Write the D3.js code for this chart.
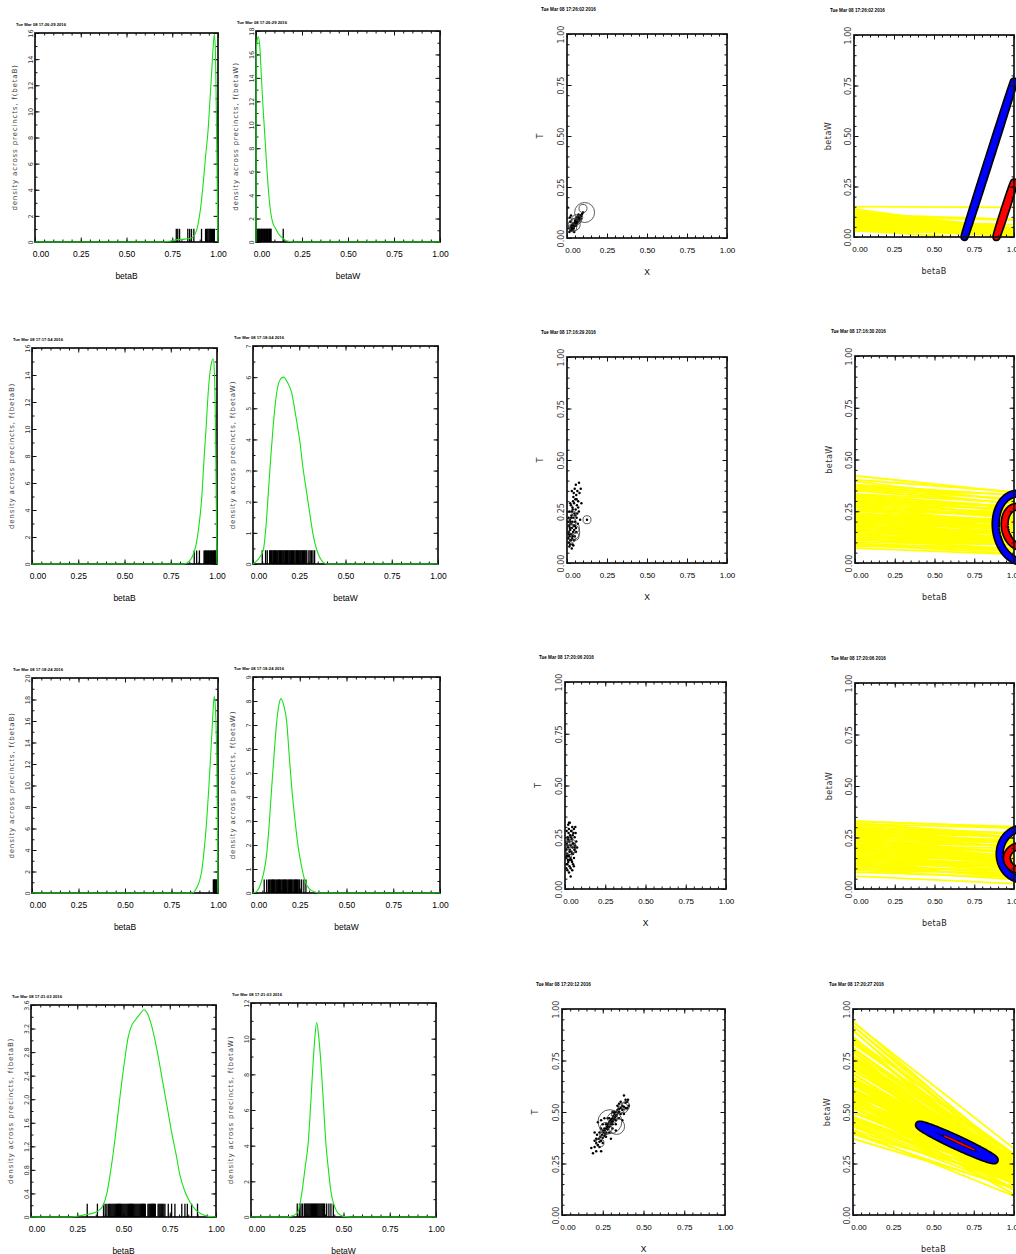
<!DOCTYPE html>
<html><head><meta charset="utf-8">
<script src="https://cdn.jsdelivr.net/npm/d3@7"></script>
<style>
body{margin:0;background:#fff;}
svg{display:block;background:#fff;}
</style></head><body>
<svg id="fig" width="1016" height="1254"></svg>
<script>
// ---------- date stamps printed above each plot ----------
const stampsBetaB = ['Tue Mar 08 17:26:29 2016','Tue Mar 08 17:17:54 2016','Tue Mar 08 17:18:24 2016','Tue Mar 08 17:21:03 2016'];
const stampsBetaW = ['Tue Mar 08 17:26:29 2016','Tue Mar 08 17:18:04 2016','Tue Mar 08 17:18:24 2016','Tue Mar 08 17:21:03 2016'];
const stampsXT    = ['Tue Mar 08 17:26:02 2016','Tue Mar 08 17:16:29 2016','Tue Mar 08 17:20:06 2016','Tue Mar 08 17:20:12 2016'];
const stampsTomo  = ['Tue Mar 08 17:26:02 2016','Tue Mar 08 17:16:30 2016','Tue Mar 08 17:20:06 2016','Tue Mar 08 17:20:27 2016'];

// ---------- density axes ----------
const betaBMax  = [16, 16, 20, 3.6];
const betaBStep = [2, 2, 2, 0.4];
const betaWMax  = [18, 7, 9, 12];
const betaWStep = [2, 1, 1, 2];
const unitTicks = [0, 0.25, 0.5, 0.75, 1];

// ---------- density curves across precincts: [value, density] ----------
const betaBDensity1 = [[0,0],[0.70,0],[0.74,0.08],[0.78,0.18],[0.82,0.22],[0.85,0.28],[0.87,0.5],[0.89,1.3],[0.905,2.6],[0.92,4.6],[0.935,7.0],[0.945,8.4],[0.955,10.6],[0.965,12.9],[0.974,15.0],[0.98,15.9],[0.986,14.5],[0.991,10],[0.996,4],[1.0,0]];
const betaWDensity1 = [[0,0],[0.001,16.0],[0.006,17.2],[0.0125,17.5],[0.02,16.8],[0.028,14.5],[0.036,12.1],[0.045,9.8],[0.053,7.8],[0.062,5.6],[0.072,3.6],[0.082,2.3],[0.092,1.6],[0.103,1.25],[0.12,0.75],[0.135,0.45],[0.147,0.3],[0.165,0.1],[0.19,0.02],[0.22,0],[1,0]];
const betaBDensity2 = [[0,0],[0.82,0],[0.845,0.15],[0.865,0.5],[0.885,1.3],[0.903,2.9],[0.918,5.0],[0.93,7.8],[0.942,10.3],[0.953,12.8],[0.963,14.3],[0.972,15.0],[0.98,15.2],[0.986,14.2],[0.991,11],[0.995,6],[0.998,2],[1,0]];
const betaWDensity2 = [[0,0],[0.02,0.1],[0.04,0.25],[0.056,0.45],[0.07,1.2],[0.083,2.3],[0.097,3.5],[0.11,4.5],[0.128,5.5],[0.145,5.9],[0.164,6.0],[0.185,5.85],[0.209,5.5],[0.23,4.8],[0.254,3.9],[0.27,3.1],[0.29,2.3],[0.31,1.5],[0.326,0.9],[0.345,0.45],[0.362,0.2],[0.38,0.05],[0.4,0],[1,0]];
const betaBDensity3 = [[0,0],[0.86,0],[0.875,0.15],[0.885,0.47],[0.9,1.1],[0.912,2.0],[0.925,3.9],[0.939,6.7],[0.95,9.6],[0.961,12.9],[0.97,15.8],[0.98,18.3],[0.986,17.2],[0.993,12.9],[0.997,6.7],[1,0]];
const betaWDensity3 = [[0,0],[0.02,0.07],[0.046,0.5],[0.06,0.95],[0.073,1.6],[0.087,2.9],[0.1,4.4],[0.114,5.9],[0.127,7.15],[0.14,7.9],[0.15,8.1],[0.165,7.8],[0.18,7.15],[0.193,5.8],[0.207,4.4],[0.225,3.0],[0.242,1.9],[0.26,1.1],[0.278,0.5],[0.3,0.18],[0.332,0.04],[0.36,0],[1,0]];
const betaBDensity4 = [[0,0],[0.22,0],[0.26,0.02],[0.3,0.04],[0.34,0.07],[0.37,0.12],[0.39,0.2],[0.41,0.4],[0.427,0.71],[0.445,1.1],[0.463,1.56],[0.485,2.15],[0.508,2.7],[0.525,3.05],[0.544,3.25],[0.565,3.35],[0.59,3.45],[0.61,3.52],[0.63,3.45],[0.652,3.25],[0.68,2.85],[0.715,2.24],[0.74,1.8],[0.76,1.44],[0.785,1.05],[0.805,0.71],[0.83,0.45],[0.86,0.25],[0.89,0.12],[0.922,0.05],[0.96,0.01],[1,0]];
const betaWDensity4 = [[0,0],[0.19,0],[0.22,0.05],[0.24,0.15],[0.256,0.32],[0.266,0.8],[0.276,1.44],[0.293,2.8],[0.31,4.25],[0.322,6.2],[0.332,8],[0.344,9.9],[0.355,10.9],[0.368,9.9],[0.382,8],[0.393,6.1],[0.404,4.25],[0.418,2.7],[0.432,1.44],[0.448,0.7],[0.463,0.32],[0.485,0.1],[0.51,0.02],[0.54,0],[1,0]];

// ---------- precinct point estimates (rug) ----------
const rugBetaB1 = [0.772,0.78,0.79,0.835,0.845,0.855,0.868,0.91,0.932,0.938,0.944,0.95,0.955,0.96,0.965,0.97,0.975,0.98];
const rugBetaW1 = [0.002,0.006,0.01,0.014,0.018,0.022,0.026,0.03,0.034,0.038,0.042,0.046,0.05,0.054,0.058,0.062,0.066,0.07,0.074,0.078,0.082,0.148];
const rugBetaB2 = [0.877,0.89,0.905,0.93,0.934,0.938,0.942,0.946,0.95,0.954,0.958,0.962,0.966,0.97,0.974,0.978,0.982,0.986,0.99,0.994,0.997];
const rugBetaW2 = [0.05,0.068,0.077,0.09,0.094,0.099,0.103,0.108,0.112,0.117,0.121,0.126,0.131,0.135,0.14,0.144,0.149,0.153,0.158,0.163,0.167,0.172,0.176,0.181,0.186,0.19,0.195,0.199,0.204,0.209,0.213,0.218,0.222,0.227,0.232,0.236,0.241,0.245,0.25,0.255,0.259,0.264,0.268,0.273,0.278,0.282,0.287,0.291,0.302,0.309,0.316,0.324,0.333];
const rugBetaB3 = [0.975,0.978,0.981,0.984,0.987,0.99,0.993];
const rugBetaW3 = [0.06,0.073,0.082,0.087,0.091,0.096,0.1,0.105,0.109,0.114,0.118,0.123,0.127,0.132,0.137,0.141,0.146,0.15,0.155,0.159,0.164,0.168,0.173,0.178,0.182,0.187,0.191,0.196,0.2,0.205,0.209,0.214,0.219,0.223,0.228,0.232,0.237,0.241,0.246,0.25,0.26,0.272,0.283];
const rugBetaB4 = [0.304,0.359,0.392,0.401,0.41,0.418,0.423,0.428,0.433,0.438,0.443,0.448,0.453,0.458,0.463,0.468,0.473,0.478,0.483,0.488,0.493,0.498,0.503,0.508,0.513,0.518,0.523,0.528,0.533,0.538,0.543,0.548,0.553,0.558,0.563,0.568,0.573,0.578,0.583,0.588,0.593,0.598,0.603,0.608,0.613,0.618,0.632,0.637,0.642,0.647,0.652,0.657,0.662,0.667,0.672,0.687,0.692,0.697,0.702,0.707,0.712,0.718,0.724,0.742,0.76,0.778,0.815,0.832,0.845,0.868,0.9];
const rugBetaW4 = [0.25,0.262,0.27,0.278,0.288,0.293,0.298,0.303,0.308,0.313,0.318,0.323,0.328,0.333,0.338,0.343,0.348,0.353,0.358,0.363,0.368,0.373,0.378,0.383,0.388,0.393,0.398,0.409,0.421,0.432,0.445];

// ---------- precinct data [X, T] ----------
const xtPoints1 = [[0.021,0.035],[0.025,0.042],[0.028,0.038],[0.030,0.050],[0.033,0.045],[0.035,0.058],[0.038,0.052],[0.040,0.064],[0.042,0.048],[0.044,0.070],[0.046,0.060],[0.048,0.075],[0.050,0.066],[0.052,0.080],[0.055,0.072],[0.057,0.085],[0.060,0.078],[0.062,0.090],[0.065,0.083],[0.068,0.095],[0.070,0.088],[0.073,0.100],[0.076,0.092],[0.080,0.105],[0.083,0.098],[0.086,0.112],[0.090,0.108],[0.094,0.118],[0.030,0.062],[0.036,0.040],[0.045,0.030],[0.058,0.060],[0.018,0.100],[0.025,0.110],[0.024,0.055],[0.072,0.115],[0.015,0.030],[0.020,0.080],[0.004,0.150],[0.100,0.125],
  [0.030,0.055],[0.040,0.070],[0.050,0.085],[0.055,0.090],[0.060,0.100],[0.065,0.105],[0.035,0.048],[0.045,0.058],[0.055,0.065],[0.065,0.075],[0.075,0.085],[0.085,0.095]];
const xtPoints2 = [[0.008,0.12],[0.010,0.15],[0.012,0.10],[0.014,0.18],[0.016,0.13],[0.018,0.21],[0.020,0.16],[0.022,0.11],[0.024,0.19],[0.026,0.14],[0.028,0.23],[0.030,0.17],[0.032,0.12],[0.034,0.20],[0.036,0.26],[0.038,0.15],[0.040,0.22],[0.042,0.18],[0.044,0.29],[0.046,0.24],[0.048,0.13],[0.050,0.20],[0.052,0.31],[0.054,0.26],[0.056,0.17],[0.058,0.33],[0.060,0.22],[0.062,0.28],[0.065,0.35],[0.068,0.19],[0.070,0.30],[0.074,0.25],[0.078,0.34],[0.082,0.21],[0.086,0.36],[0.020,0.09],[0.035,0.09],[0.045,0.11],[0.015,0.25],[0.025,0.28],[0.040,0.32],[0.006,0.20],[0.030,0.07],[0.125,0.21],[0.090,0.29],[0.055,0.38],
  [0.012,0.14],[0.018,0.17],[0.022,0.20],[0.026,0.22],[0.030,0.25],[0.034,0.27],[0.038,0.30],[0.042,0.34],[0.048,0.36],[0.050,0.18],[0.045,0.16],[0.035,0.13],[0.025,0.11],[0.015,0.08],[0.060,0.31],[0.070,0.27],[0.064,0.24],[0.058,0.15],[0.010,0.22],[0.020,0.29],[0.030,0.35],[0.075,0.39],[0.040,0.085],[0.052,0.23]];
const xtPoints3 = [[0.006,0.15],[0.008,0.19],[0.010,0.12],[0.012,0.22],[0.014,0.17],[0.016,0.25],[0.018,0.14],[0.020,0.20],[0.022,0.27],[0.024,0.16],[0.026,0.23],[0.028,0.11],[0.030,0.19],[0.032,0.26],[0.034,0.15],[0.036,0.21],[0.038,0.28],[0.040,0.18],[0.042,0.24],[0.044,0.13],[0.046,0.20],[0.048,0.26],[0.050,0.17],[0.052,0.22],[0.055,0.29],[0.058,0.19],[0.060,0.25],[0.063,0.21],[0.066,0.27],[0.070,0.23],[0.015,0.09],[0.025,0.08],[0.035,0.10],[0.045,0.30],[0.020,0.31],[0.010,0.28],[0.040,0.14],[0.050,0.12],[0.030,0.32],[0.075,0.20],
  [0.008,0.10],[0.012,0.16],[0.016,0.21],[0.020,0.24],[0.024,0.29],[0.028,0.18],[0.032,0.14],[0.036,0.25],[0.040,0.28],[0.044,0.17],[0.048,0.22],[0.052,0.27],[0.056,0.15],[0.060,0.20],[0.064,0.30],[0.068,0.18],[0.015,0.12],[0.025,0.32],[0.035,0.06],[0.045,0.09],[0.055,0.11],[0.020,0.13]];
const xtPoints4 = [[0.18,0.325],[0.20,0.33],[0.21,0.35],[0.22,0.34],[0.225,0.37],[0.23,0.355],[0.235,0.38],[0.24,0.36],[0.245,0.39],[0.25,0.375],[0.255,0.40],[0.26,0.385],[0.262,0.41],[0.265,0.395],[0.27,0.42],[0.272,0.40],[0.275,0.43],[0.28,0.415],[0.282,0.44],[0.285,0.425],[0.29,0.45],[0.292,0.43],[0.295,0.455],[0.30,0.44],[0.302,0.465],[0.305,0.45],[0.31,0.47],[0.312,0.455],[0.315,0.48],[0.32,0.465],[0.322,0.49],[0.325,0.475],[0.33,0.50],[0.335,0.485],[0.34,0.51],[0.345,0.495],[0.35,0.515],[0.36,0.52],[0.37,0.53],[0.38,0.525],[0.39,0.545],[0.40,0.55],[0.405,0.56],[0.24,0.31],[0.30,0.37],[0.33,0.41],[0.37,0.46],[0.22,0.45],[0.26,0.47],[0.28,0.47],[0.24,0.42],[0.33,0.46],[0.35,0.54],[0.215,0.39],[0.31,0.50],[0.25,0.44],[0.20,0.36],[0.36,0.49],[0.19,0.30],[0.41,0.53],
  [0.21,0.37],[0.23,0.40],[0.25,0.41],[0.27,0.44],[0.29,0.47],[0.31,0.44],[0.33,0.48],[0.35,0.50],[0.37,0.51],[0.39,0.52],[0.26,0.42],[0.28,0.43],[0.30,0.46],[0.32,0.50],[0.34,0.53],[0.36,0.55],[0.23,0.33],[0.27,0.38],[0.29,0.40],[0.31,0.42],[0.33,0.44],[0.35,0.47],[0.38,0.49],[0.40,0.52],[0.25,0.35],[0.21,0.31],[0.20,0.40],[0.24,0.46],[0.38,0.58],[0.39,0.56]];

// ---------- larger precincts drawn as circles: [X, T, N] ----------
const xtSized1 = [[0.11,0.125,960],[0.10,0.145,154],[0.06,0.09,240],[0.045,0.065,346],[0.035,0.05,154],[0.08,0.10,86],[0.05,0.08,120],[0.03,0.045,60],[0.07,0.095,60]];
const xtSized2 = [[0.03,0.15,614],[0.04,0.17,346],[0.02,0.12,240],[0.05,0.13,154],[0.125,0.21,154],[0.035,0.20,120],[0.025,0.18,60],[0.045,0.24,40]];
const xtSized3 = [[0.025,0.20,470],[0.035,0.19,240],[0.02,0.17,154],[0.04,0.22,154],[0.03,0.24,86],[0.015,0.22,60]];
const xtSized4 = [[0.294,0.453,1382],[0.335,0.43,614],[0.376,0.52,240],[0.233,0.35,154],[0.39,0.53,154],[0.31,0.47,240],[0.27,0.42,346],[0.36,0.51,120],[0.25,0.39,86],[0.32,0.49,86]];

// ---------- posterior contours in (betaB, betaW): centre, semi-axes, angle (deg) ----------
const tomoContours1 = [
  {level:'outer', cx:0.845, cy:0.385, rx:0.415, ry:0.004, angle:68.1},
  {level:'inner', cx:0.945, cy:0.135, rx:0.146, ry:0.004, angle:67.8}];
const tomoContours2 = [
  {level:'outer', cx:1.04, cy:0.17, rx:0.17, ry:0.15, angle:-60},
  {level:'inner', cx:1.03, cy:0.175, rx:0.10, ry:0.085, angle:-60}];
const tomoContours3 = [
  {level:'outer', cx:1.06, cy:0.17, rx:0.15, ry:0.125, angle:0},
  {level:'inner', cx:1.05, cy:0.15, rx:0.095, ry:0.06, angle:0}];
const tomoContours4 = [
  {level:'outer', cx:0.645, cy:0.352, rx:0.25, ry:0.017, angle:-19.9},
  {level:'core', cx:0.66, cy:0.35, rx:0.10, ry:0.002, angle:-19.9}];

// ---------- layout: plot boxes [left, top, right, bottom] ----------
const boxesBetaB = [[35,33,218,242],[32,348,217,564],[32,678,218,893],[31,1005,216,1217]];
const boxesBetaW = [[256,31,440,242],[253,346,438,564],[253,677,440,893],[251,1003,436,1217]];
const boxesXT    = [[567,34,727,238],[567,357,727,563],[565,682,726,889],[562,1009,725,1215]];
const boxesTomo  = [[854,35,1014,237],[855,356,1014,563],[855,683,1014,889],[853,1009,1014,1215]];

const FONT_N = '"Liberation Sans Narrow","Liberation Sans",Arial,sans-serif';
const FONT_S = '"Liberation Sans",Arial,sans-serif';
const FONT_W = '"DejaVu Sans",Verdana,sans-serif';
const svg = d3.select('#fig');
let clipId = 0;

const contourStyle = {
  outer: {under:'#000', underW:8.5, over:'#0000ff', overW:5.2},
  inner: {under:'#000', underW:8.5, over:'#ff0000', overW:5.2},
  core:  {under:'#000', underW:2.6, over:'#ff0000', overW:1.1}
};

function addClip(box) {
  const id = 'clip' + (clipId++);
  svg.append('clipPath').attr('id', id).append('rect')
    .attr('x', box[0]).attr('y', box[1]).attr('width', box[2]-box[0]).attr('height', box[3]-box[1]);
  return `url(#${id})`;
}

// inward ticks on all four sides plus the frame and labelled axes
function frame(g, x, y, o) {
  const [xl, xr] = x.range(), [yb, yt] = y.range();
  const strip = s => s.select('.domain').remove();
  const side = (gen, tr, vals, len) => g.append('g').attr('transform', tr)
    .call(gen.tickValues(vals).tickSize(-len).tickFormat('')).call(strip);
  side(d3.axisBottom(x), `translate(0,${yb})`, o.xMinor, 2.5);
  side(d3.axisTop(x), `translate(0,${yt})`, o.xMinor, 2.5);
  side(d3.axisLeft(y), `translate(${xl},0)`, o.yMinor, 2.5);
  side(d3.axisRight(y), `translate(${xr},0)`, o.yMinor, 2.5);
  side(d3.axisTop(x), `translate(0,${yt})`, o.xMajor, 4.5);
  side(d3.axisRight(y), `translate(${xr},0)`, o.yMajor, 4.5);

  const bx = g.append('g').attr('transform', `translate(0,${yb})`)
    .call(d3.axisBottom(x).tickValues(o.xMajor).tickSize(-4.5).tickPadding(o.xPad).tickFormat(o.xFmt)).call(strip);
  bx.selectAll('text').attr('font-family', o.xFont).attr('font-size', o.xSize).attr('fill', '#000');
  bx.selectAll('.tick').filter((d, i) => i === 0).select('text').attr('x', 5.5);

  const ly = g.append('g').attr('transform', `translate(${xl},0)`)
    .call(d3.axisLeft(y).tickValues(o.yMajor).tickSize(-4.5).tickFormat(o.yFmt)).call(strip);
  ly.selectAll('text').attr('x', 0).attr('dy', null).attr('text-anchor', 'middle')
    .attr('transform', `translate(${-o.yOff},0) rotate(-90)`)
    .attr('font-family', o.yFont).attr('font-size', o.ySize).attr('fill', o.yColor);

  g.selectAll('.tick line').attr('stroke', '#111').attr('stroke-width', 1);
  g.append('rect').attr('x', xl).attr('y', yt).attr('width', xr - xl).attr('height', yb - yt)
    .attr('fill', 'none').attr('stroke', '#111').attr('stroke-width', 1.7);
}

function stamp(g, x, y, txt, size) {
  g.append('text').attr('x', x).attr('y', y).attr('font-family', FONT_N).attr('font-size', size)
    .attr('font-weight', 'bold').attr('fill', '#000').text(txt);
}

function densityPanel(box, curve, rug, yMax, yStep, varName, stampTxt) {
  const [l, t, r, b] = box;
  const x = d3.scaleLinear().domain([0, 1]).range([l, r]);
  const y = d3.scaleLinear().domain([0, yMax]).range([b, t]);
  const g = svg.append('g');
  const yMajor = d3.range(0, yMax + yStep / 2, yStep);
  const yMinor = d3.range(0, yMax + yStep / 4, yStep / 2);
  frame(g, x, y, {
    xMajor: unitTicks, xMinor: d3.range(0, 1.0001, 0.05), yMajor, yMinor,
    xPad: 9, xFmt: d3.format('.2f'), xFont: FONT_N, xSize: 8.5,
    yFmt: v => (yStep < 1 ? (v === 0 ? '0' : v.toFixed(1)) : d3.format('d')(v)),
    yOff: 2.5, yFont: FONT_W, ySize: 6.5, yColor: '#333'
  });
  // rug of precinct point estimates
  const rugH = yMax * 0.063;
  g.append('g').selectAll('line').data(rug).join('line')
    .attr('x1', d => x(d)).attr('x2', d => x(d)).attr('y1', y(0)).attr('y2', y(rugH))
    .attr('stroke', '#000').attr('stroke-width', 1.3);
  // density across precincts
  g.append('path').datum(curve)
    .attr('d', d3.line().x(d => x(d[0])).y(d => y(d[1])).curve(d3.curveMonotoneX))
    .attr('fill', 'none').attr('stroke', '#19e019').attr('stroke-width', 1.1);
  // labels
  g.append('text').attr('x', (l + r) / 2).attr('y', b + 37).attr('text-anchor', 'middle')
    .attr('font-family', FONT_N).attr('font-size', 8.5).text(varName);
  g.append('text').attr('transform', `translate(${l - 18},${(t + b) / 2}) rotate(-90)`)
    .attr('text-anchor', 'middle').attr('font-family', FONT_W).attr('font-size', 7.1)
    .attr('letter-spacing', 0.8).attr('fill', '#444')
    .text(`density across precincts, f(${varName})`);
  stamp(g, l - 19, t - 7, stampTxt, 4.2);
}

function xtPanel(box, pts, sized, stampTxt) {
  const [l, t, r, b] = box;
  const x = d3.scaleLinear().domain([0, 1]).range([l, r]);
  const y = d3.scaleLinear().domain([0, 1]).range([b, t]);
  const rad = d3.scaleSqrt().domain([0, 1500]).range([0, 12.5]);
  const g = svg.append('g');
  const clip = addClip(box);
  const pg = g.append('g').attr('clip-path', clip);
  pg.selectAll('circle.pt').data(pts).join('circle').attr('class', 'pt')
    .attr('cx', d => x(d[0])).attr('cy', d => y(d[1])).attr('r', 1.25).attr('fill', '#000');
  pg.selectAll('circle.sz').data(sized).join('circle').attr('class', 'sz')
    .attr('cx', d => x(d[0])).attr('cy', d => y(d[1])).attr('r', d => rad(d[2]))
    .attr('fill', 'none').attr('stroke', '#333').attr('stroke-width', 0.8);
  frame(g, x, y, {
    xMajor: unitTicks, xMinor: d3.range(0, 1.0001, 0.05), yMajor: unitTicks, yMinor: d3.range(0, 1.0001, 0.05),
    xPad: 9, xFmt: d3.format('.2f'), xFont: FONT_S, xSize: 8,
    yFmt: d3.format('.2f'), yOff: 3.5, yFont: FONT_W, ySize: 8, yColor: '#333'
  });
  g.append('text').attr('x', (l + r) / 2).attr('y', b + 37).attr('text-anchor', 'middle')
    .attr('font-family', FONT_S).attr('font-size', 8.5).text('X');
  g.append('text').attr('transform', `translate(${l - 24},${(t + b) / 2}) rotate(-90)`)
    .attr('text-anchor', 'middle').attr('font-family', FONT_W).attr('font-size', 8).attr('fill', '#333').text('T');
  stamp(g, l - 26, t - 23, stampTxt, 4.6);
}

function tomoPanel(box, pts, contours, stampTxt) {
  const [l, t, r, b] = box;
  const x = d3.scaleLinear().domain([0, 1]).range([l, r]);
  const y = d3.scaleLinear().domain([0, 1]).range([b, t]);
  const g = svg.append('g');
  const clip = addClip(box);
  // tomography line of each precinct: betaW = (T - betaB X) / (1 - X)
  g.append('g').attr('clip-path', clip).selectAll('line').data(pts).join('line')
    .attr('x1', x(0)).attr('y1', d => y(d[1] / (1 - d[0])))
    .attr('x2', x(1)).attr('y2', d => y((d[1] - d[0]) / (1 - d[0])))
    .attr('stroke', '#ffff00').attr('stroke-width', 1.8);
  // contours: black edge under coloured stroke
  const line = d3.line().x(d => x(d[0])).y(d => y(d[1])).curve(d3.curveLinearClosed);
  const ellipse = c => {
    const a = c.angle * Math.PI / 180;
    return d3.range(0, 360, 2).map(deg => {
      const u = deg * Math.PI / 180;
      return [c.cx + c.rx * Math.cos(u) * Math.cos(a) - c.ry * Math.sin(u) * Math.sin(a),
              c.cy + c.rx * Math.cos(u) * Math.sin(a) + c.ry * Math.sin(u) * Math.cos(a)];
    });
  };
  const cg = g.append('g');
  contours.forEach(c => {
    const st = contourStyle[c.level];
    const d = line(ellipse(c));
    cg.append('path').attr('d', d).attr('fill', 'none').attr('stroke', st.under)
      .attr('stroke-width', st.underW).attr('stroke-linejoin', 'round');
    cg.append('path').attr('d', d).attr('fill', 'none').attr('stroke', st.over)
      .attr('stroke-width', st.overW).attr('stroke-linejoin', 'round');
  });
  frame(g, x, y, {
    xMajor: unitTicks, xMinor: d3.range(0, 1.0001, 0.05), yMajor: unitTicks, yMinor: d3.range(0, 1.0001, 0.05),
    xPad: 9, xFmt: d3.format('.2f'), xFont: FONT_S, xSize: 8,
    yFmt: d3.format('.2f'), yOff: 3.5, yFont: FONT_W, ySize: 8, yColor: '#333'
  });
  g.append('text').attr('x', (l + r) / 2).attr('y', b + 37).attr('text-anchor', 'middle')
    .attr('font-family', FONT_W).attr('font-size', 8).attr('letter-spacing', 0.3).attr('fill', '#222').text('betaB');
  g.append('text').attr('transform', `translate(${l - 23},${(t + b) / 2}) rotate(-90)`)
    .attr('text-anchor', 'middle').attr('font-family', FONT_W).attr('font-size', 8)
    .attr('letter-spacing', 0.5).attr('fill', '#333').text('betaW');
  stamp(g, l - 24, t - 23, stampTxt, 4.6);
}

const betaBDens = [betaBDensity1, betaBDensity2, betaBDensity3, betaBDensity4];
const betaWDens = [betaWDensity1, betaWDensity2, betaWDensity3, betaWDensity4];
const rugsB = [rugBetaB1, rugBetaB2, rugBetaB3, rugBetaB4];
const rugsW = [rugBetaW1, rugBetaW2, rugBetaW3, rugBetaW4];
const xtPts = [xtPoints1, xtPoints2, xtPoints3, xtPoints4];
const xtSz = [xtSized1, xtSized2, xtSized3, xtSized4];
const tomoC = [tomoContours1, tomoContours2, tomoContours3, tomoContours4];

for (let i = 0; i < 4; i++) {
  densityPanel(boxesBetaB[i], betaBDens[i], rugsB[i], betaBMax[i], betaBStep[i], 'betaB', stampsBetaB[i]);
  densityPanel(boxesBetaW[i], betaWDens[i], rugsW[i], betaWMax[i], betaWStep[i], 'betaW', stampsBetaW[i]);
  xtPanel(boxesXT[i], xtPts[i], xtSz[i], stampsXT[i]);
  tomoPanel(boxesTomo[i], xtPts[i], tomoC[i], stampsTomo[i]);
}
</script>
</body></html>
